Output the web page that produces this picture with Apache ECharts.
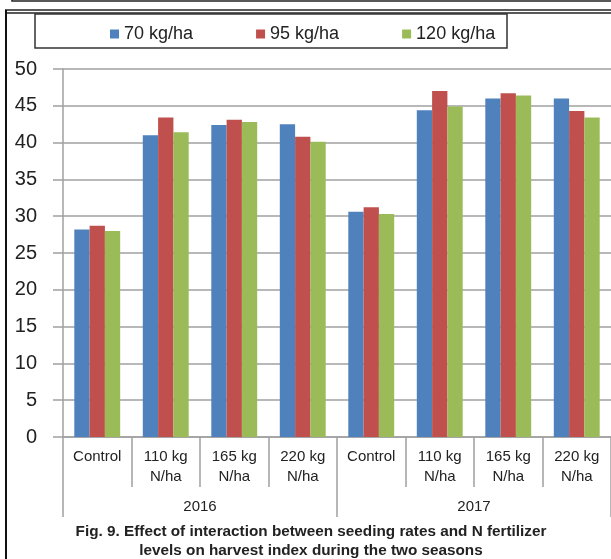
<!DOCTYPE html>
<html>
<head>
<meta charset="utf-8">
<script src="https://cdn.jsdelivr.net/npm/echarts@6/dist/echarts.min.js"></script>
<style>
  html, body { margin: 0; padding: 0; background: #fff; }
  #chart { width: 611px; height: 559px; }
</style>
</head>
<body>
<div id="chart"></div>
<script>
// categories and values
const treatments = ["Control", "110 kg\nN/ha", "165 kg\nN/ha", "220 kg\nN/ha",
  "Control", "110 kg\nN/ha", "165 kg\nN/ha", "220 kg\nN/ha"];
const seasons = ["2016", "2017"];
const rate70 = [28.2, 41.0, 42.4, 42.5, 30.6, 44.4, 46.0, 46.0];
const rate95 = [28.7, 43.4, 43.1, 40.8, 31.2, 47.0, 46.7, 44.3];
const rate120 = [28.0, 41.4, 42.8, 40.1, 30.3, 44.9, 46.4, 43.4];
const yTicks = [0, 5, 10, 15, 20, 25, 30, 35, 40, 45, 50];

const myChart = echarts.init(document.getElementById("chart"));

const gray = "#a0a0a0";
const barSeries = (name, data, color) => ({
  name: name,
  type: "bar",
  data: data,
  barGap: "0%",
  barCategoryGap: "33%",
  itemStyle: { color: color },
});

const option = {
  animation: false,
  legend: {
    left: 105,
    top: 20,
    icon: "rect",
    itemWidth: 9,
    itemHeight: 9,
    itemGap: 63,
    textStyle: { fontFamily: "Liberation Sans", fontSize: 18, color: "#222" },
  },
  grid: { left: 63, top: 69, width: 550, bottom: 122 },
  xAxis: [
    {
      type: "category",
      data: treatments,
      position: "bottom",
      axisLine: { lineStyle: { color: gray, width: 1.5 } },
      axisTick: { show: true, interval: 0, length: 50, lineStyle: { color: gray, width: 1.5 } },
      axisLabel: {
        interval: 0,
        margin: 10,
        lineHeight: 20,
        fontFamily: "Liberation Sans",
        fontSize: 15,
        color: "#222",
      },
    },
    {
      type: "category",
      data: seasons,
      position: "bottom",
      axisLine: { show: false },
      axisTick: { show: true, interval: 0, length: 80, lineStyle: { color: gray, width: 1.5 } },
      axisLabel: {
        interval: 0,
        margin: 60,
        lineHeight: 20,
        fontFamily: "Liberation Sans",
        fontSize: 15,
        color: "#222",
      },
    },
  ],
  yAxis: {
    type: "value",
    min: yTicks[0],
    max: yTicks[yTicks.length - 1],
    interval: 5,
    axisLine: { show: true, lineStyle: { color: gray, width: 1.5 } },
    axisTick: { show: true, length: 10, lineStyle: { color: gray, width: 1.5 } },
    splitLine: { lineStyle: { color: gray, width: 1.5 } },
    axisLabel: { margin: 26, fontFamily: "Liberation Sans", fontSize: 20, color: "#222" },
  },
  series: [
    barSeries("70 kg/ha", rate70, "#4f81bd"),
    barSeries("95 kg/ha", rate95, "#c0504d"),
    barSeries("120 kg/ha", rate120, "#9bbb59"),
  ],
  graphic: [
    // frame of the figure box
    { type: "rect", shape: { x: 12, y: -10, width: 620, height: 11 }, style: { fill: "none", stroke: "#222", lineWidth: 1.5 } },
    { type: "line", shape: { x1: 5, y1: 10, x2: 611, y2: 10 }, style: { stroke: "#222", lineWidth: 1.5 } },
    { type: "line", shape: { x1: 5, y1: 13, x2: 611, y2: 13 }, style: { stroke: "#222", lineWidth: 1.5 } },
    { type: "line", shape: { x1: 6, y1: 10, x2: 6, y2: 559 }, style: { stroke: "#111", lineWidth: 2 } },
    // legend box
    { type: "rect", shape: { x: 35, y: 14, width: 472, height: 34 }, style: { fill: "none", stroke: "#333", lineWidth: 1.5 } },
    // caption
    {
      type: "text",
      x: 311,
      y: 522,
      style: {
        text: "Fig. 9. Effect of interaction between seeding rates and N fertilizer\nlevels on harvest index during the two seasons",
        textAlign: "center",
        fontFamily: "Liberation Sans",
        fontWeight: "bold",
        fontSize: 15.3,
        lineHeight: 19,
        fill: "#222",
      },
    },
  ],
};

myChart.setOption(option);
</script>
</body>
</html>
